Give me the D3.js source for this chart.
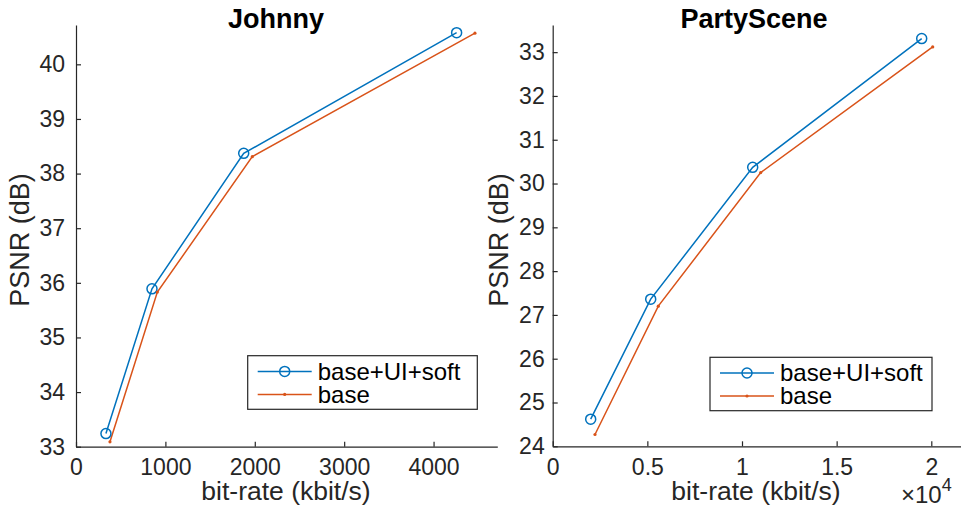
<!DOCTYPE html>
<html>
<head>
<meta charset="utf-8">
<script src="https://cdn.jsdelivr.net/npm/d3@7"></script>
<style>
  html, body { margin: 0; padding: 0; background: #fff; }
  svg { display: block; font-family: "Liberation Sans", Arial, Helvetica, sans-serif; }
</style>
</head>
<body>
<svg id="chart" width="961" height="508"></svg>
<script>
// ---------- DATA ----------
const seriesNames = ["base+UI+soft", "base"];

const johnnyTitle = "Johnny";
const johnnyRateSoft = [335, 850, 1876, 4258];
const johnnyPsnrSoft = [33.24, 35.89, 38.37, 40.58];
const johnnyRateBase = [380, 910, 1972, 4463];
const johnnyPsnrBase = [33.09, 35.83, 38.31, 40.57];
const johnnyXTicks = [0, 1000, 2000, 3000, 4000];
const johnnyXTickLabels = ["0", "1000", "2000", "3000", "4000"];
const johnnyYTicks = [33, 34, 35, 36, 37, 38, 39, 40];

const partyTitle = "PartyScene";
const partyRateSoft = [2007, 5177, 10565, 19493];
const partyPsnrSoft = [24.62, 27.36, 30.37, 33.31];
const partyRateBase = [2234, 5578, 10988, 20074];
const partyPsnrBase = [24.27, 27.20, 30.25, 33.12];
const partyXTicks = [0, 5000, 10000, 15000, 20000];
const partyXTickLabels = ["0", "0.5", "1", "1.5", "2"];
const partyYTicks = [24, 25, 26, 27, 28, 29, 30, 31, 32, 33];

const xLabel = "bit-rate (kbit/s)";
const yLabel = "PSNR (dB)";
const exponentLabel = "4";

// ---------- STYLE ----------
const AX = "#262626";
const COLORS = ["#0072BD", "#D95319"];
const svg = d3.select("#chart");

function drawPanel(cfg) {
  const g = svg.append("g");
  const x = d3.scaleLinear().domain(cfg.xDomain).range([cfg.left, cfg.right]);
  const y = d3.scaleLinear().domain(cfg.yDomain).range([cfg.bottom, cfg.top]);

  // x axis
  const xa = g.append("g")
    .attr("transform", `translate(0,${cfg.bottom})`)
    .call(d3.axisBottom(x).tickValues(cfg.xTicks)
      .tickFormat((d, i) => cfg.xTickLabels[i])
      .tickSizeInner(-5).tickSizeOuter(0).tickPadding(12));
  // y axis
  const ya = g.append("g")
    .attr("transform", `translate(${cfg.left},0)`)
    .call(d3.axisLeft(y).tickValues(cfg.yTicks)
      .tickFormat(d3.format("d"))
      .tickSizeInner(-5).tickSizeOuter(0).tickPadding(cfg.yPad));
  [xa, ya].forEach(a => {
    a.attr("font-family", null).attr("font-size", null);
    a.select(".domain").attr("stroke", AX).attr("stroke-width", 1.2);
    a.selectAll(".tick line").attr("stroke", AX).attr("stroke-width", 1.2);
    a.selectAll(".tick text").attr("fill", AX).style("font-size", "23px");
  });

  // lines
  const line = d3.line().x(d => x(d[0])).y(d => y(d[1]));
  const series = [
    d3.zip(cfg.rateSoft, cfg.psnrSoft),
    d3.zip(cfg.rateBase, cfg.psnrBase)
  ];
  series.forEach((pts, i) => {
    g.append("path").datum(pts).attr("d", line)
      .attr("fill", "none").attr("stroke", COLORS[i]).attr("stroke-width", 1.5);
  });
  g.selectAll(".mk0").data(series[0]).join("circle")
    .attr("cx", d => x(d[0])).attr("cy", d => y(d[1])).attr("r", 5)
    .attr("fill", "none").attr("stroke", COLORS[0]).attr("stroke-width", 1.5);
  g.selectAll(".mk1").data(series[1]).join("circle")
    .attr("cx", d => x(d[0])).attr("cy", d => y(d[1])).attr("r", 1.6)
    .attr("fill", COLORS[1]);

  // title
  g.append("text").attr("x", cfg.titleX).attr("y", 28)
    .attr("text-anchor", "middle").attr("font-weight", "bold")
    .attr("font-size", 27).attr("fill", "#000").text(cfg.title);
  // x label
  g.append("text").attr("x", cfg.xLabelX).attr("y", 500)
    .attr("text-anchor", "middle").attr("font-size", 26.5).attr("fill", AX).text(xLabel);
  // y label
  g.append("text")
    .attr("transform", `translate(${cfg.yLabelX},240) rotate(-90)`)
    .attr("text-anchor", "middle").attr("font-size", 27).attr("fill", AX).text(yLabel);

  // legend
  const lg = g.append("g").attr("transform", `translate(${cfg.legX},${cfg.legY})`);
  lg.append("rect").attr("width", cfg.legW).attr("height", cfg.legH)
    .attr("fill", "#fff").attr("stroke", AX).attr("stroke-width", 1.2);
  seriesNames.forEach((name, i) => {
    const ry = 15.7 + i * 23;
    lg.append("line").attr("x1", 10).attr("x2", 64).attr("y1", ry).attr("y2", ry)
      .attr("stroke", COLORS[i]).attr("stroke-width", 1.5);
    if (i === 0) {
      lg.append("circle").attr("cx", 37).attr("cy", ry).attr("r", 5)
        .attr("fill", "none").attr("stroke", COLORS[i]).attr("stroke-width", 1.5);
    } else {
      lg.append("circle").attr("cx", 37).attr("cy", ry).attr("r", 1.6).attr("fill", COLORS[i]);
    }
    lg.append("text").attr("x", 70).attr("y", ry).attr("dy", "0.35em")
      .attr("font-size", 24).attr("fill", "#000").text(name);
  });
  return { x, y, g };
}

drawPanel({
  title: johnnyTitle, rateSoft: johnnyRateSoft, psnrSoft: johnnyPsnrSoft,
  rateBase: johnnyRateBase, psnrBase: johnnyPsnrBase,
  xTicks: johnnyXTicks, xTickLabels: johnnyXTickLabels, yTicks: johnnyYTicks,
  xDomain: [0, 4713], yDomain: [33, 40.72],
  left: 76, right: 497.3, top: 25, bottom: 446.7, yPad: 11,
  titleX: 276, xLabelX: 286, yLabelX: 28.5,
  legX: 247.7, legY: 355.7, legW: 229.6, legH: 53.6
});

const p2 = drawPanel({
  title: partyTitle, rateSoft: partyRateSoft, psnrSoft: partyPsnrSoft,
  rateBase: partyRateBase, psnrBase: partyPsnrBase,
  xTicks: partyXTicks, xTickLabels: partyXTickLabels, yTicks: partyYTicks,
  xDomain: [0, 21569], yDomain: [24, 33.62],
  left: 552.7, right: 961, top: 25, bottom: 446.3, yPad: 8,
  titleX: 754, xLabelX: 756, yLabelX: 508.3,
  legX: 710, legY: 357.3, legW: 222, legH: 53.4
});

// x10^4 exponent label
const ex = p2.g.append("text").attr("x", 901).attr("y", 503)
  .attr("font-size", 24).attr("fill", AX);
ex.append("tspan").text("\u00D710");
ex.append("tspan").attr("dy", -12).attr("font-size", 18).text(exponentLabel);
</script>
</body>
</html>
